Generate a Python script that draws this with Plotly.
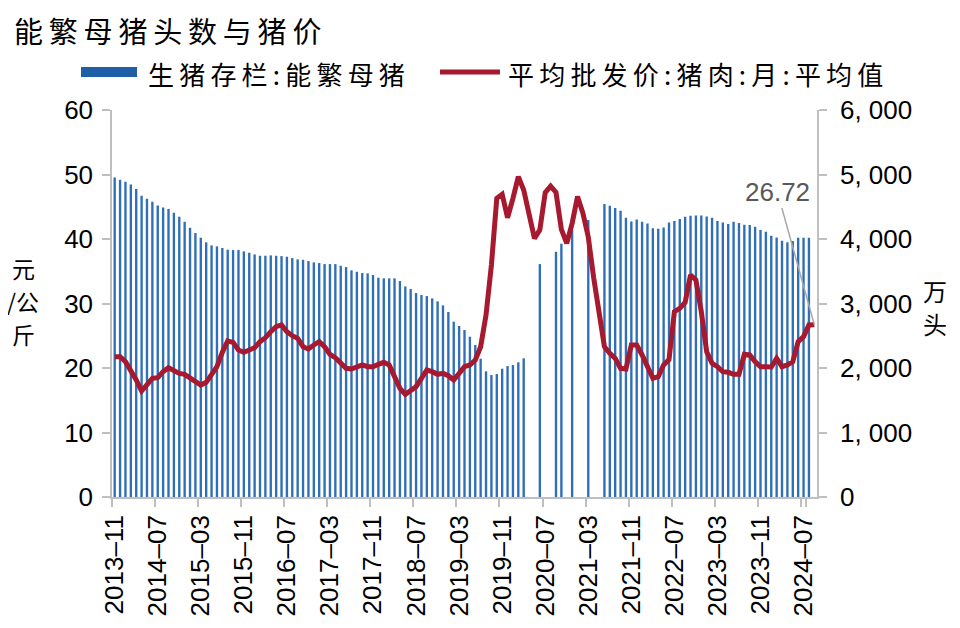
import plotly.graph_objects as go
import pandas as pd

# ---------------- data ----------------
months = [p.strftime("%Y-%m") for p in pd.period_range("2013-11", "2024-09", freq="M")]

# 生猪存栏:能繁母猪 (万头), right axis
sows = [
    4955, 4918, 4888, 4846, 4774, 4670, 4624, 4577, 4521, 4490, 4464, 4407, 4345,
    4268, 4174, 4092, 4020, 3948, 3901, 3886, 3860, 3834, 3829, 3829, 3808, 3787,
    3761, 3740, 3740, 3746, 3740, 3735, 3725, 3704, 3684, 3678, 3658, 3637, 3627,
    3611, 3611, 3611, 3585, 3565, 3514, 3492, 3472, 3467, 3441, 3400, 3390, 3390,
    3390, 3348, 3265, 3224, 3162, 3131, 3115, 3079, 3033, 2971, 2868, 2718, 2651,
    2589, 2485, 2356, 2144, 1948, 1891, 1906, 1989, 2030, 2046, 2088, 2150,
    None, None, 3611, None, None, 3802, 3927, None, 4138, None, None, 4293, None, None,
    4541, 4516, 4480, 4438, 4330, 4273, 4304, 4268, 4242, 4165, 4159, 4180, 4257, 4278,
    4309, 4345, 4361, 4366, 4366, 4350, 4330, 4278, 4257, 4231, 4268, 4247, 4221,
    4216, 4190, 4138, 4112, 4051, 4025, 3973, 3948, 3968, 4020, 4020, 4020, None,
]

# 平均批发价:猪肉:月:平均值 (元/公斤), left axis
price = [
    21.75, 21.75, 20.98, 19.69, 18.14, 16.43, 17.47, 18.40, 18.50, 19.43, 20.05, 19.53, 19.17,
    19.02, 18.50, 17.88, 17.36, 17.78, 18.91, 20.20, 22.43, 24.19, 23.98, 22.79, 22.43, 22.79,
    23.15, 24.08, 24.70, 25.63, 26.40, 26.67, 25.63, 25.01, 24.60, 23.30, 22.95, 23.57, 24.08,
    23.30, 22.12, 21.60, 20.73, 19.95, 19.84, 20.20, 20.47, 20.20, 20.20, 20.57, 20.88, 20.47,
    18.60, 16.85, 15.92, 16.43, 17.10, 18.40, 19.69, 19.43, 19.02, 19.17, 18.81, 18.14, 19.17,
    20.20, 20.47, 21.24, 23.30, 28.22, 35.97, 46.30, 46.93, 43.30, 46.30, 49.66, 47.60, 44.23,
    40.10, 41.40, 47.20, 48.20, 47.24, 41.50, 39.33, 42.43, 46.60, 44.00, 40.30, 34.00, 28.20,
    23.30, 22.28, 21.50, 19.95, 19.84, 23.57, 23.57, 22.02, 20.20, 18.40, 18.65, 20.47, 21.30,
    28.73, 29.25, 30.18, 34.42, 33.64, 28.73, 22.53, 20.73, 20.20, 19.43, 19.33, 19.02, 19.02,
    22.12, 22.02, 20.98, 20.20, 20.20, 20.15, 21.50, 20.20, 20.47, 20.98, 24.08, 24.86, 26.67,
    26.72,
]

tick_months = months[::8]
tick_text = [m.replace("-", "\u2013") for m in tick_months]
right_ticks = [0, 1000, 2000, 3000, 4000, 5000, 6000]
right_text = ["0", "1, 000", "2, 000", "3, 000", "4, 000", "5, 000", "6, 000"]

title_text = "能繁母猪头数与猪价"
bar_name = "生猪存栏:能繁母猪"
line_name = "平均批发价:猪肉:月:平均值"
left_unit = ["元", "/公", "斤"]
right_unit = ["万", "头"]

# ---------------- styling ----------------
CJK = "Noto Sans CJK SC"
NUM = "Liberation Sans, Arial, sans-serif"
GRAY = "#BFBFBF"
BLUE = "#2F6FB7"
RED = "#A6192E"
SP = "\u2009"

OFF = 8            # default page body margin in the html page
W, H = 960 - OFF, 628 - OFF


def spaced(s):
    return SP.join(s)


fig = go.Figure()
fig.add_trace(go.Bar(x=months, y=sows, name=bar_name, marker=dict(color=BLUE, line=dict(width=0)),
                     yaxis="y", showlegend=False))
fig.add_trace(go.Scatter(x=months, y=price, name=line_name, mode="lines",
                         line=dict(color=RED, width=5), yaxis="y2", showlegend=False))

# plot area in window pixels: x 112..817, y 110..497
L, T = 112 - OFF, 110 - OFF
R = W - (817 - OFF)
B = H - (497 - OFF)
PW, PH = W - L - R, H - T - B


def px(xp):
    return (xp - OFF - L) / PW


def py(yp):
    return (H - B - (yp - OFF)) / PH


fig.update_layout(
    width=W, height=H,
    margin=dict(l=L, r=R, t=T, b=B, autoexpand=False),
    paper_bgcolor="white", plot_bgcolor="white",
    bargap=0.56,
    xaxis=dict(type="category", range=[-0.5, len(months) - 0.5],
               tickmode="array", tickvals=tick_months, ticktext=tick_text,
               tickangle=-90, ticks="outside", tickson="boundaries", ticklen=8,
               tickcolor=GRAY, tickwidth=1.5, showline=True, linecolor=GRAY, linewidth=1.5,
               showgrid=False, tickfont=dict(family=NUM, size=26, color="#000000"),
               ticklabelstandoff=6),
    yaxis=dict(side="right", range=[0, 6000], tickmode="array", tickvals=right_ticks,
               ticktext=right_text, ticks="outside", ticklen=8, tickcolor=GRAY, tickwidth=1.5,
               showline=True, linecolor=GRAY, linewidth=1.5, showgrid=False, zeroline=False,
               tickfont=dict(family=NUM, size=26, color="#000000"), ticklabelstandoff=8),
    yaxis2=dict(side="left", overlaying="y", range=[0, 60], dtick=10, ticks="outside",
                ticklen=8, tickcolor=GRAY, tickwidth=1.5, showline=True, linecolor=GRAY,
                linewidth=1.5, showgrid=False, zeroline=False,
                tickfont=dict(family=NUM, size=26, color="#000000"), ticklabelstandoff=4),
)

# title
fig.add_annotation(xref="paper", yref="paper", x=px(12), y=py(30), xanchor="left", yanchor="middle",
                   text=spaced(title_text), showarrow=False,
                   font=dict(family=CJK, size=29, color="#000000"))

# manual legend
fig.add_shape(type="rect", xref="paper", yref="paper", x0=px(81), x1=px(137), y0=py(77), y1=py(67),
              fillcolor="#1F5FA8", line=dict(width=0))
fig.add_shape(type="line", xref="paper", yref="paper", x0=px(440), x1=px(500), y0=py(72), y1=py(72),
              line=dict(color=RED, width=5))
fig.add_annotation(xref="paper", yref="paper", x=px(146), y=py(73), xanchor="left", yanchor="middle",
                   text=spaced(bar_name), showarrow=False,
                   font=dict(family=CJK, size=26, color="#000000"))
fig.add_annotation(xref="paper", yref="paper", x=px(506), y=py(73), xanchor="left", yanchor="middle",
                   text=spaced(line_name), showarrow=False,
                   font=dict(family=CJK, size=26, color="#000000"))

# axis titles (one annotation per line, stacked)
for k, t in enumerate(left_unit):
    fig.add_annotation(xref="paper", yref="paper", x=px(23), y=py(268 + 33 * k),
                       xanchor="center", yanchor="middle", text=t, showarrow=False,
                       font=dict(family=CJK, size=23, color="#000000"))
for k, t in enumerate(right_unit):
    fig.add_annotation(xref="paper", yref="paper", x=px(935), y=py(290 + 33 * k),
                       xanchor="center", yanchor="middle", text=t, showarrow=False,
                       font=dict(family=CJK, size=24, color="#000000"))

# last value label
fig.add_annotation(x=months[-1], y=price[-1], xref="x", yref="y2",
                   text=f"{price[-1]:.2f}", showarrow=True, arrowhead=0, arrowwidth=1.5,
                   arrowcolor="#A6A6A6", ax=-37, ay=-133, standoff=0,
                   font=dict(family=NUM, size=26, color="#595959"))

fig.write_html("out.html")
